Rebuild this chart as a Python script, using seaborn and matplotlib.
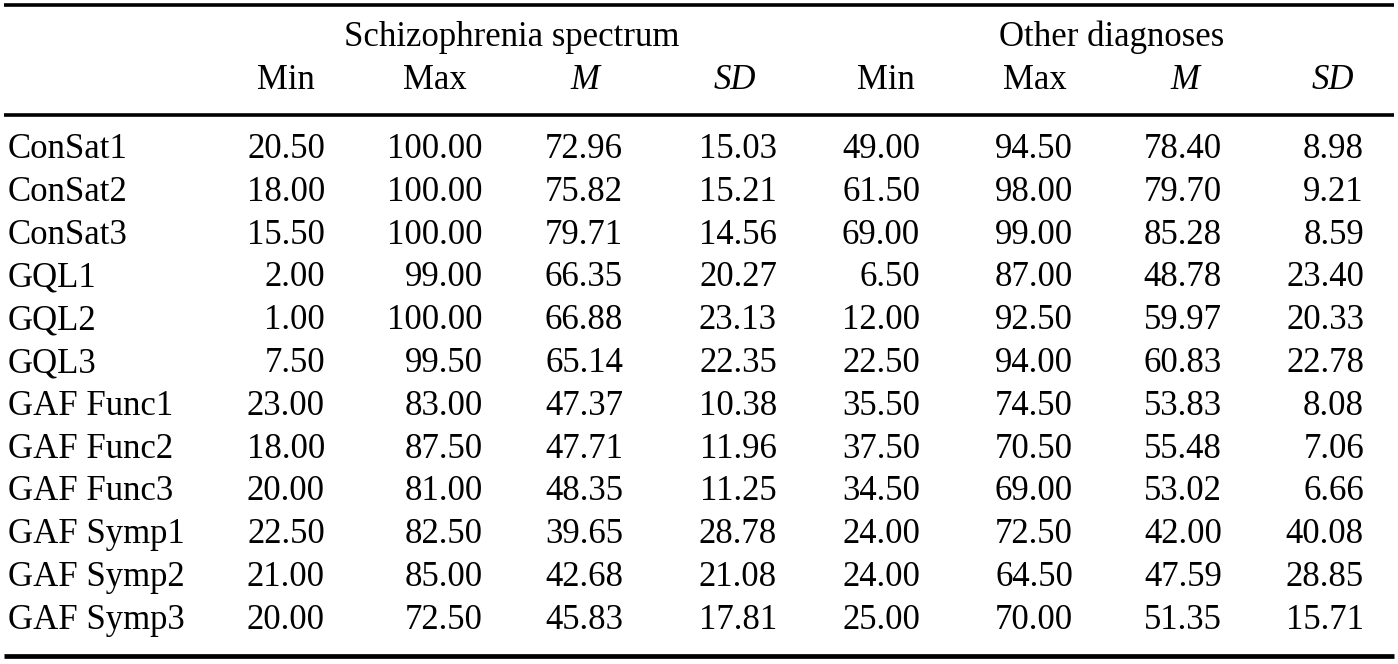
import numpy as np
import pandas as pd
import seaborn as sns
import matplotlib.pyplot as plt

# row labels and values
rows = ["ConSat1", "ConSat2", "ConSat3", "GQL1", "GQL2", "GQL3",
        "GAF Func1", "GAF Func2", "GAF Func3", "GAF Symp1", "GAF Symp2", "GAF Symp3"]
groups = ["Schizophrenia spectrum", "Other diagnoses"]
stats = ["Min", "Max", "M", "SD"]

schizo_min = [20.50, 18.00, 15.50, 2.00, 1.00, 7.50, 23.00, 18.00, 20.00, 22.50, 21.00, 20.00]
schizo_max = [100.00, 100.00, 100.00, 99.00, 100.00, 99.50, 83.00, 87.50, 81.00, 82.50, 85.00, 72.50]
schizo_m = [72.96, 75.82, 79.71, 66.35, 66.88, 65.14, 47.37, 47.71, 48.35, 39.65, 42.68, 45.83]
schizo_sd = [15.03, 15.21, 14.56, 20.27, 23.13, 22.35, 10.38, 11.96, 11.25, 28.78, 21.08, 17.81]
other_min = [49.00, 61.50, 69.00, 6.50, 12.00, 22.50, 35.50, 37.50, 34.50, 24.00, 24.00, 25.00]
other_max = [94.50, 98.00, 99.00, 87.00, 92.50, 94.00, 74.50, 70.50, 69.00, 72.50, 64.50, 70.00]
other_m = [78.40, 79.70, 85.28, 48.78, 59.97, 60.83, 53.83, 55.48, 53.02, 42.00, 47.59, 51.35]
other_sd = [8.98, 9.21, 8.59, 23.40, 20.33, 22.78, 8.08, 7.06, 6.66, 40.08, 28.85, 15.71]

df = pd.DataFrame(
    np.column_stack([schizo_min, schizo_max, schizo_m, schizo_sd,
                     other_min, other_max, other_m, other_sd]),
    index=rows,
    columns=pd.MultiIndex.from_product([groups, stats]))

sns.set_theme(style="white")
plt.rcParams['font.family'] = ['Liberation Serif', 'DejaVu Serif']
plt.rcParams['text.color'] = 'black'

fig = plt.figure(figsize=(13.98, 6.64), dpi=100)
ax = fig.add_axes([0, 0, 1, 1])
ax.set_xlim(0, 1398)
ax.set_ylim(664, 0)
ax.axis("off")

fs = 25
# layout (pixels)
col_right = [325, 483, 623, 777, 920, 1073, 1222, 1364]
col_center = [286, 435, 585, 735, 886, 1035, 1185, 1333]
group_center = [512, 1112]
row_base0 = 158
row_step = 42.8

# rules
ax.hlines(5, 4, 1394, color="black", lw=2.6)
ax.hlines(115, 4, 1394, color="black", lw=2.6)
ax.hlines(656, 4, 1394, color="black", lw=3.4)

for g, xc in zip(groups, group_center):
    ax.text(xc, 46, g, fontsize=fs, ha="center", va="baseline", color="black")

for j, (grp, st) in enumerate(df.columns):
    style = "italic" if st in ("M", "SD") else "normal"
    ax.text(col_center[j], 89, st, fontsize=fs, ha="center", va="baseline",
            style=style, color="black")

for i, name in enumerate(df.index):
    y = row_base0 + i * row_step
    ax.text(8, y, name, fontsize=fs, ha="left", va="baseline", color="black")
    for j, v in enumerate(df.loc[name].values):
        ax.text(col_right[j], y, f"{v:.2f}", fontsize=fs, ha="right",
                va="baseline", color="black")

fig.savefig("out.png", dpi=100, facecolor="white")
